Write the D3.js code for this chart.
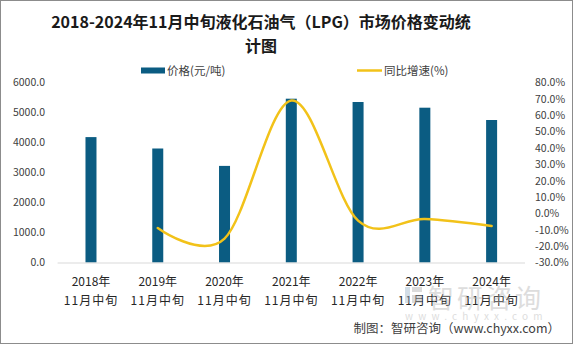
<!DOCTYPE html>
<html>
<head>
<meta charset="utf-8">
<script src="https://cdn.jsdelivr.net/npm/d3@7/dist/d3.min.js"></script>
<style>
  body { margin: 0; background: #fff; }
  svg text { font-family: "Noto Sans CJK SC", "Noto Sans", sans-serif; }
</style>
</head>
<body>
<script>
// categories and series
const years = ["2018年", "2019年", "2020年", "2021年", "2022年", "2023年", "2024年"];
const period = "11月中旬";
const prices = [4180, 3800, 3220, 5460, 5350, 5160, 4750];      // 价格(元/吨)
const growth = [null, -8.9, -15.4, 69.0, -4.4, -3.4, -7.7];     // 同比增速(%)
const leftTicks = [0, 1000, 2000, 3000, 4000, 5000, 6000];
const rightTicks = [-30, -20, -10, 0, 10, 20, 30, 40, 50, 60, 70, 80];

const W = 573, H = 344;
const barColor = "#0b5c82", lineColor = "#f2c219";

const svg = d3.select("body").append("svg")
    .attr("width", W)
    .attr("height", H);

// outer frame
svg.append("rect")
    .attr("x", 0.5).attr("y", 0.5)
    .attr("width", W - 1).attr("height", H - 1)
    .attr("fill", "#fff")
    .attr("stroke", "#8c8c8c");

const x = d3.scaleBand().domain(years).range([57.6, 525]).padding(0);
const yL = d3.scaleLinear().domain([0, 6000]).range([262.5, 82.5]);
const yR = d3.scaleLinear().domain([-30, 80]).range([262.5, 82.5]);

// title (two lines)
const title = svg.append("text")
    .attr("text-anchor", "middle")
    .attr("font-size", 16)
    .attr("font-weight", "bold")
    .attr("fill", "#1a1a1a");
title.append("tspan").attr("x", 261).attr("y", 28).text("2018-2024年11月中旬液化石油气（LPG）市场价格变动统");
title.append("tspan").attr("x", 261).attr("y", 52).text("计图");

// legend
svg.append("rect").attr("x", 141).attr("y", 67.5).attr("width", 24).attr("height", 6).attr("fill", barColor);
svg.append("text").attr("x", 167).attr("y", 75).attr("font-size", 11.5).attr("fill", "#404040").text("价格(元/吨)");
svg.append("line").attr("x1", 357).attr("x2", 382).attr("y1", 70.5).attr("y2", 70.5)
    .attr("stroke", lineColor).attr("stroke-width", 2.5);
svg.append("text").attr("x", 384).attr("y", 75).attr("font-size", 11.5).attr("fill", "#404040").text("同比增速(%)");

// left axis
const axL = svg.append("g")
    .attr("transform", "translate(49,0)")
    .call(d3.axisLeft(yL).tickValues(leftTicks).tickSize(0).tickPadding(4).tickFormat(d => d.toFixed(1)));
axL.select(".domain").remove();
axL.selectAll("text").attr("font-size", 10.5).attr("fill", "#404040").attr("font-family", "Liberation Sans, sans-serif");

// right axis
const axR = svg.append("g")
    .attr("transform", "translate(531,0)")
    .call(d3.axisRight(yR).tickValues(rightTicks).tickSize(0).tickPadding(4).tickFormat(d => d.toFixed(1) + "%"));
axR.select(".domain").remove();
axR.selectAll("text").attr("font-size", 10.5).attr("fill", "#404040").attr("font-family", "Liberation Sans, sans-serif");

// bars
svg.append("g").selectAll("rect")
    .data(prices)
    .join("rect")
    .attr("x", (d, i) => x(years[i]) + x.bandwidth() / 2 - 5.5)
    .attr("y", d => yL(d))
    .attr("width", 11)
    .attr("height", d => yL(0) - yL(d))
    .attr("fill", barColor);

// baseline
svg.append("line")
    .attr("x1", 57.6).attr("x2", 525)
    .attr("y1", yL(0) + 0.5).attr("y2", yL(0) + 0.5)
    .attr("stroke", "#d9d9d9");

// x labels
const xl = svg.append("g").selectAll("text")
    .data(years)
    .join("text")
    .attr("text-anchor", "middle")
    .attr("font-size", 12)
    .attr("fill", "#262626");
xl.append("tspan").attr("x", d => x(d) + x.bandwidth() / 2).attr("y", 286).text(d => d);
xl.append("tspan").attr("x", d => x(d) + x.bandwidth() / 2).attr("y", 305).attr("letter-spacing", 1).text(period);

// smoothed growth line
const pts = growth.map((g, i) => [x(years[i]) + x.bandwidth() / 2, g]).filter(p => p[1] !== null);
svg.append("path")
    .datum(pts)
    .attr("fill", "none")
    .attr("stroke", lineColor)
    .attr("stroke-width", 2.5)
    .attr("stroke-linecap", "round")
    .attr("d", d3.line().x(p => p[0]).y(p => yR(p[1])).curve(d3.curveCardinal.tension(0)));

// watermark
const wm = svg.append("g").attr("opacity", 0.45);
wm.append("rect").attr("x", 405).attr("y", 287).attr("width", 5).attr("height", 16).attr("fill", "#9fb8cc");
wm.append("rect").attr("x", 412).attr("y", 287).attr("width", 10).attr("height", 5).attr("fill", "#b0b0b0");
wm.append("rect").attr("x", 412).attr("y", 295).attr("width", 10).attr("height", 8).attr("fill", "#b0b0b0");
wm.append("text").attr("x", 428).attr("y", 308).attr("font-size", 26).attr("fill", "#b5b5b5")
    .attr("letter-spacing", 3).text("智研咨询");
wm.append("text").attr("x", 405).attr("y", 320).attr("font-size", 10).attr("fill", "#b5b5b5")
    .attr("letter-spacing", 5.2).text("www.chyxx.com");

// source note
svg.append("text")
    .attr("x", 560).attr("y", 333)
    .attr("text-anchor", "end")
    .attr("font-size", 12.5)
    .attr("fill", "#404040")
    .text("制图：智研咨询（www.chyxx.com）");
</script>
</body>
</html>
